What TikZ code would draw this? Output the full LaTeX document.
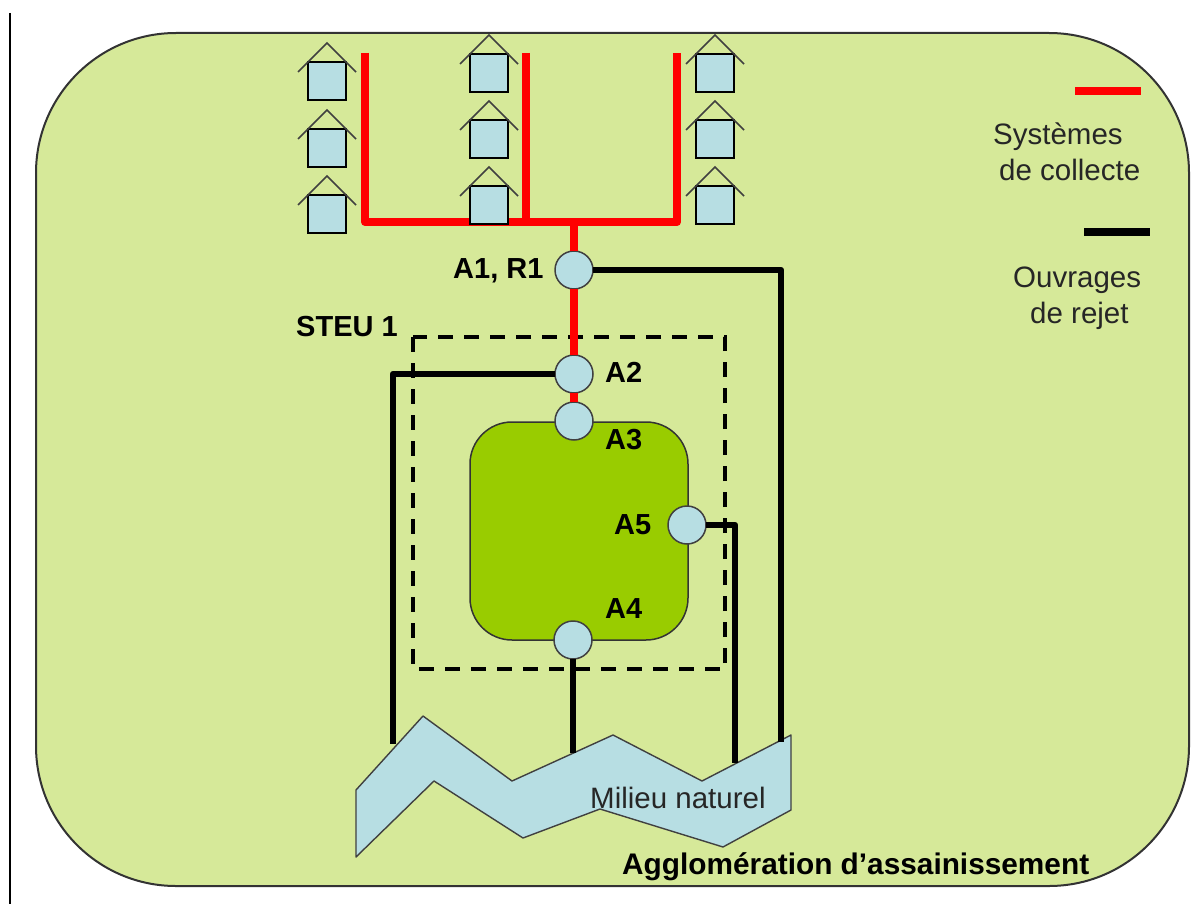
\documentclass[tikz,border=0pt]{standalone}
\usepackage{fontspec}
\setmainfont{Liberation Sans}
\usetikzlibrary{calc}
\definecolor{bggreen}{HTML}{D6E999}
\definecolor{boxgreen}{HTML}{99CC00}
\definecolor{lightb}{HTML}{B7DEE3}
\definecolor{red1}{HTML}{FF0000}
\tikzset{
  x=1pt,y=-1pt,
  house/.style={draw=black,line width=2pt,fill=lightb,minimum width=38pt,minimum height=38pt,inner sep=0pt,outer sep=0pt},
  roof/.style={draw=black!75,line width=1.6pt},
  collect/.style={draw=red1,line width=8pt,line join=round},
  rejet/.style={draw=black,line width=6.5pt,line join=round},
  port/.style={circle,draw=black!75,line width=1.5pt,fill=lightb,minimum size=38pt,inner sep=0pt,outer sep=0pt},
  reg/.style={font=\fontsize{29.5}{32}\selectfont,inner sep=0pt,anchor=base west,text=black!85},
  bld/.style={font=\fontsize{29}{32}\selectfont\bfseries,inner sep=0pt,anchor=base west,text=black},
}
\begin{document}
\begin{tikzpicture}
\useasboundingbox (0,0) rectangle (1193,904);
\fill[white] (0,0) rectangle (1193,904);
\coordinate (vt) at (10,13);
\coordinate (vb) at (10,904);
\draw[black,line width=2pt] (vt) -- (vb);
\draw[black!80,line width=2pt,fill=bggreen,rounded corners=140pt] (36,33) rectangle (1189,886);

% collectors
\coordinate (c1) at (365,53);
\coordinate (c1b) at (365,222);
\coordinate (c2) at (526,53);
\coordinate (c2b) at (526,222);
\coordinate (c3) at (677,53);
\coordinate (c3b) at (677,222);
\coordinate (tr) at (574,222);
\draw[collect] (c1) -- (c1b) -- (c3b) -- (c3);
\draw[collect] (c2) -- (c2b);

% houses
\foreach \n/\cx/\cy in {a1/327/81,a2/327/148,a3/327/214,b1/489/73,b2/489/139,b3/489/205,c1/715/73,c2/715/139,c3/715/205}{
  \node[house] (h\n) at (\cx,\cy) {};
  \draw[roof] ($(h\n.north)+(-29,10)$) -- ($(h\n.north)+(0,-19)$) -- ($(h\n.north)+(29,10)$);
}

% river
\draw[black!75,line width=1.4pt,fill=lightb,line join=round] (356,790) -- (423,716) -- (512,781) -- (613,735) -- (702,781) -- (791,735) -- (791,810) -- (723,847) -- (600,809) -- (523,838) -- (434,781) -- (356,857) -- cycle;
\coordinate (ra) at (393,744);
\coordinate (rb) at (573,753);
\coordinate (rc) at (735,763);
\coordinate (rd) at (781,742);

% dashed plant
\draw[black,line width=3.5pt,dash pattern=on 15pt off 11pt] (413,337) rectangle (725,669);
% treatment box
\draw[black!80,line width=1.5pt,fill=boxgreen,rounded corners=42pt] (470,422) rectangle (688,640);

% ports
\node[port] (A1) at (574,270) {};
\node[port] (A2) at (574,374) {};
\node[port] (A3) at (574,421) {};
\node[port] (A4) at (573,640) {};
\node[port] (A5) at (687,525) {};

\draw[collect] (tr) -- (A1.north);
\draw[collect] (A1.south) -- (A2.north);
\draw[collect] (A2.south) -- (A3.north);
\draw[rejet] (A1.east) -- (781,270) -- (rd);
\draw[rejet] (A2.west) -- (393,374) -- (ra);
\draw[rejet] (A4.south) -- (rb);
\draw[rejet] (A5.east) -- (735,525) -- (rc);

% labels
\node[bld] (lA1) at (453,278) {A1, R1};
\node[bld] (lS) at (296,336) {STEU 1};
\node[bld] (lA2) at (605,382) {A2};
\node[bld] (lA3) at (605,449) {A3};
\node[bld] (lA5) at (614,534) {A5};
\node[bld] (lA4) at (605,618) {A4};
\node[reg] (lM) at (590,808) {Milieu naturel};
\node[bld,font=\fontsize{29.8}{32}\selectfont\bfseries] (lAg) at (622,874) {Agglomération d’assainissement};

% legend
\coordinate (l1a) at (1075,91);
\coordinate (l1b) at (1141,91);
\coordinate (l2a) at (1084,232);
\coordinate (l2b) at (1150,232);
\draw[draw=red1,line width=7.5pt] (l1a) -- (l1b);
\draw[draw=black,line width=7.5pt] (l2a) -- (l2b);
\node[reg] (t1) at (993,145) {Systèmes};
\node[reg] (t2) at (999,181) {de collecte};
\node[reg] (t3) at (1013,287) {Ouvrages};
\node[reg] (t4) at (1030,323) {de rejet};
\end{tikzpicture}
\end{document}
